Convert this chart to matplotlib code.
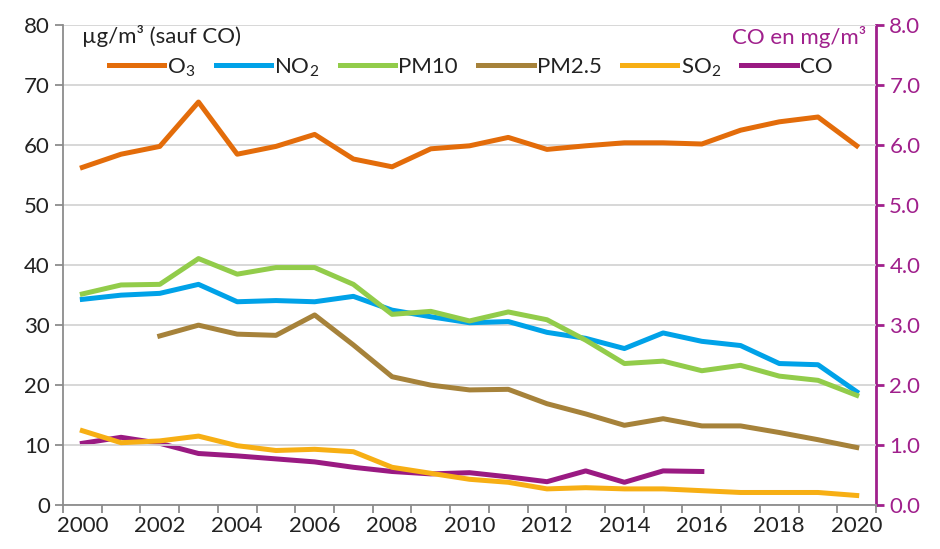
import matplotlib.pyplot as plt
import numpy as np

plt.rcParams['font.family'] = ['Lato', 'DejaVu Sans']
plt.rcParams['mathtext.fontset'] = 'custom'
plt.rcParams['mathtext.rm'] = 'Lato'

years = list(range(2000, 2021))
o3 = [56.3, 58.5, 59.8, 67.2, 58.5, 59.8, 61.8, 57.7, 56.4, 59.4, 59.9,
      61.3, 59.3, 59.9, 60.4, 60.4, 60.2, 62.5, 63.9, 64.7, 59.9]
no2 = [34.3, 35.0, 35.3, 36.8, 33.9, 34.1, 33.9, 34.8, 32.5, 31.4, 30.4,
       30.6, 28.8, 27.8, 26.1, 28.7, 27.3, 26.6, 23.6, 23.4, 18.9]
pm10 = [35.2, 36.7, 36.8, 41.1, 38.5, 39.6, 39.6, 36.8, 31.8, 32.3, 30.7,
        32.2, 30.9, 27.5, 23.6, 24.0, 22.4, 23.3, 21.5, 20.8, 18.3]
pm25_years = list(range(2002, 2021))
pm25 = [28.2, 30.0, 28.5, 28.3, 31.7, 26.7, 21.4, 20.0, 19.2,
        19.3, 16.9, 15.2, 13.3, 14.4, 13.2, 13.2, 12.1, 10.9, 9.6]
so2 = [12.4, 10.4, 10.7, 11.5, 9.9, 9.1, 9.3, 8.9, 6.3, 5.3, 4.3,
       3.8, 2.7, 2.9, 2.7, 2.7, 2.4, 2.1, 2.1, 2.1, 1.6]
co_years = list(range(2000, 2017))
co = [1.03, 1.13, 1.03, 0.86, 0.82, 0.77, 0.72, 0.63, 0.56, 0.52, 0.54,
      0.47, 0.39, 0.57, 0.38, 0.57, 0.56]

purple = '#A0208C'
grey = '#8C8C8C'

fig = plt.figure(figsize=(9.4, 5.49), dpi=100)
ax = fig.add_axes([0.067, 0.080, 0.865, 0.874])
ax2 = ax.twinx()

x = np.arange(len(years))
x25 = np.array(pm25_years) - 2000
xco = np.array(co_years) - 2000

lw = 3.6
l1, = ax.plot(x, o3, color='#E36C0A', lw=lw, label=r'O$_\mathregular{3}$')
l2, = ax.plot(x, no2, color='#00A2E8', lw=lw, label=r'NO$_\mathregular{2}$')
l3, = ax.plot(x, pm10, color='#92CC4A', lw=lw, label='PM10')
l4, = ax.plot(x25, pm25, color='#A6823A', lw=lw, label='PM2.5')
l5, = ax.plot(x, so2, color='#F7AF14', lw=lw, label=r'SO$_\mathregular{2}$')
l6, = ax2.plot(xco, co, color='#9A1A82', lw=lw, label='CO')
ax.set_zorder(ax2.get_zorder() + 1)
ax.patch.set_visible(False)

ax.set_xlim(-0.5, 20.5)
ax.set_ylim(0, 80)
ax2.set_ylim(0, 8)

ax.set_yticks(range(0, 81, 10))
ax.yaxis.grid(True, color='#D4D4D4', lw=1.3)
ax.set_axisbelow(True)
ax.set_xticks(x[::2])
ax.set_xticklabels([str(y) for y in years[::2]])
ax.set_xticks(np.arange(-0.5, 21, 1), minor=True)
ax.tick_params(axis='x', which='major', length=0, pad=8, labelsize=16, colors='#222222')
ax.tick_params(axis='x', which='minor', length=6, width=1.3, color=grey)
ax.tick_params(axis='y', length=6, width=1.3, color=grey, labelsize=16, labelcolor='#222222')

for s in ['top', 'right']:
    ax.spines[s].set_visible(False)
for s in ['left', 'bottom']:
    ax.spines[s].set_color(grey)
    ax.spines[s].set_linewidth(1.3)

for s in ['top', 'left', 'bottom']:
    ax2.spines[s].set_visible(False)
ax2.spines['right'].set_color(purple)
ax2.spines['right'].set_linewidth(2)
ax2.set_yticks(np.arange(0, 8.1, 1))
ax2.set_yticklabels([f'{v:.1f}' for v in np.arange(0, 8.1, 1)])
ax2.tick_params(axis='y', length=6, width=2, color=purple, labelsize=16, labelcolor=purple)

fig.text(0.087, 0.935, 'µg/m³ (sauf CO)', fontsize=16, va='center', color='#222222')
fig.text(0.921, 0.932, 'CO en mg/m³', fontsize=16, va='center', ha='right', color=purple)

fig.legend(handles=[l1, l2, l3, l4, l5, l6], loc='center left',
           bbox_to_anchor=(0.106, 0.877), ncol=6, frameon=False, fontsize=16,
           handlelength=2.5, handletextpad=0.15, columnspacing=0.9, borderaxespad=0,
           labelcolor='#222222')

fig.savefig('out.png', dpi=100)
